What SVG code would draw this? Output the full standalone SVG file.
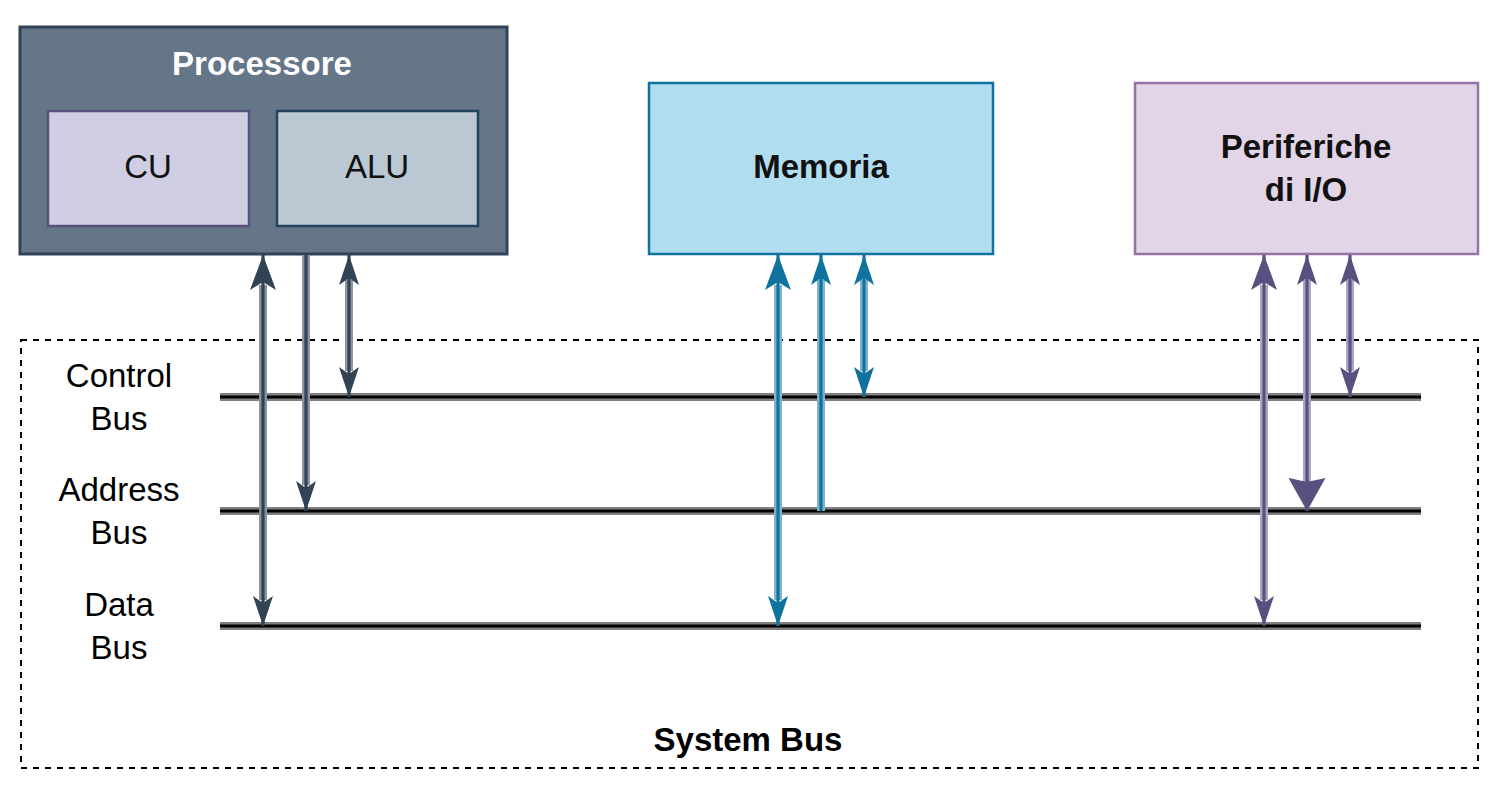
<svg xmlns="http://www.w3.org/2000/svg" width="1506" height="788" viewBox="0 0 1506 788">
<style>
text{font-family:"Liberation Sans",Arial,sans-serif;font-size:33px;text-anchor:middle}
.b{font-weight:bold}
.bus-o{stroke:#808080;stroke-width:8}
.bus-c{stroke:#000;stroke-width:3}
.o-d{stroke:#8a95a1;stroke-width:8}
.c-d{stroke:#314354;stroke-width:3.2}
.o-b{stroke:#7fb3cc;stroke-width:8}
.c-b{stroke:#10739e;stroke-width:3.2}
.o-p{stroke:#a9a5c2;stroke-width:8}
.c-p{stroke:#56517e;stroke-width:3.2}
</style>
<defs>
<marker id="hd" viewBox="0 0 30 20" markerWidth="30" markerHeight="20" refX="30" refY="10" markerUnits="userSpaceOnUse" orient="auto-start-reverse"><path d="M0,0 L30,10 L0,20 L7,10 Z" fill="#314354"/></marker>
<marker id="hdL" viewBox="0 0 35 26" markerWidth="35" markerHeight="26" refX="35" refY="13" markerUnits="userSpaceOnUse" orient="auto-start-reverse"><path d="M0,0 L35,13 L0,26 L8,13 Z" fill="#314354"/></marker>
<marker id="hb" viewBox="0 0 30 20" markerWidth="30" markerHeight="20" refX="30" refY="10" markerUnits="userSpaceOnUse" orient="auto-start-reverse"><path d="M0,0 L30,10 L0,20 L7,10 Z" fill="#10739e"/></marker>
<marker id="hbL" viewBox="0 0 35 26" markerWidth="35" markerHeight="26" refX="35" refY="13" markerUnits="userSpaceOnUse" orient="auto-start-reverse"><path d="M0,0 L35,13 L0,26 L8,13 Z" fill="#10739e"/></marker>
<marker id="hp" viewBox="0 0 30 20" markerWidth="30" markerHeight="20" refX="30" refY="10" markerUnits="userSpaceOnUse" orient="auto-start-reverse"><path d="M0,0 L30,10 L0,20 L7,10 Z" fill="#56517e"/></marker>
<marker id="hpL" viewBox="0 0 35 26" markerWidth="35" markerHeight="26" refX="35" refY="13" markerUnits="userSpaceOnUse" orient="auto-start-reverse"><path d="M0,0 L35,13 L0,26 L8,13 Z" fill="#56517e"/></marker>
<marker id="hpX" viewBox="0 0 33 37" markerWidth="33" markerHeight="37" refX="33" refY="18.5" markerUnits="userSpaceOnUse" orient="auto-start-reverse"><path d="M0,0 L33,18.5 L0,37 L4,18.5 Z" fill="#56517e"/></marker>
</defs>
<rect width="1506" height="788" fill="#fff"/>

<g id="system-bus">
<rect x="21" y="340" width="1457" height="428" fill="none" stroke="#000" stroke-width="2" stroke-dasharray="6 6"/>
<text class="b" x="748" y="751">System Bus</text>
</g>

<g id="control-bus">
<line class="bus-o" x1="220" y1="397" x2="1421" y2="397"/>
<line class="bus-c" x1="220" y1="397" x2="1421" y2="397"/>
<text x="119" y="387">Control</text><text x="119" y="430">Bus</text>
</g>
<g id="address-bus">
<line class="bus-o" x1="220" y1="511" x2="1421" y2="511"/>
<line class="bus-c" x1="220" y1="511" x2="1421" y2="511"/>
<text x="119" y="501">Address</text><text x="119" y="544">Bus</text>
</g>
<g id="data-bus">
<line class="bus-o" x1="220" y1="626" x2="1421" y2="626"/>
<line class="bus-c" x1="220" y1="626" x2="1421" y2="626"/>
<text x="119" y="616">Data</text><text x="119" y="659">Bus</text>
</g>

<g id="processore">
<rect x="20" y="27" width="487" height="227" fill="#647687" stroke="#314354" stroke-width="3"/>
<text class="b" x="262" y="75" fill="#fff">Processore</text>
</g>
<g id="cu">
<rect x="48" y="111" width="201" height="115" fill="#d0cee2" stroke="#56517e" stroke-width="2.5"/>
<text x="148" y="178" fill="#111">CU</text>
</g>
<g id="alu">
<rect x="277" y="111" width="201" height="115" fill="#bac8d3" stroke="#23445d" stroke-width="2.5"/>
<text x="377" y="178" fill="#111">ALU</text>
</g>
<g id="memoria">
<rect x="649" y="83" width="344" height="171" fill="#b1ddf0" stroke="#10739e" stroke-width="2.5"/>
<text class="b" x="821" y="178" fill="#111">Memoria</text>
</g>
<g id="periferiche">
<rect x="1135" y="83" width="343" height="171" fill="#e1d5e7" stroke="#9673a6" stroke-width="2.5"/>
<text class="b" x="1306" y="158" fill="#111">Periferiche</text>
<text class="b" x="1306" y="201" fill="#111">di I/O</text>
</g>

<g id="connectors" fill="none">
<line class="o-d" x1="263" y1="285" x2="263" y2="600"/>
<line class="c-d" x1="263" y1="255" x2="263" y2="626" marker-start="url(#hdL)" marker-end="url(#hd)"/>
<line class="o-d" x1="306" y1="255" x2="306" y2="485"/>
<line class="c-d" x1="306" y1="255" x2="306" y2="511" marker-end="url(#hd)"/>
<line class="o-d" x1="349" y1="280" x2="349" y2="371"/>
<line class="c-d" x1="349" y1="255" x2="349" y2="397" marker-start="url(#hd)" marker-end="url(#hd)"/>

<line class="o-b" x1="778" y1="285" x2="778" y2="600"/>
<line class="c-b" x1="778" y1="255" x2="778" y2="626" marker-start="url(#hbL)" marker-end="url(#hb)"/>
<line class="o-b" x1="821" y1="511" x2="821" y2="280"/>
<line class="c-b" x1="821" y1="511" x2="821" y2="255" marker-end="url(#hb)"/>
<line class="o-b" x1="864" y1="280" x2="864" y2="371"/>
<line class="c-b" x1="864" y1="255" x2="864" y2="397" marker-start="url(#hb)" marker-end="url(#hb)"/>

<line class="o-p" x1="1264" y1="285" x2="1264" y2="600"/>
<line class="c-p" x1="1264" y1="255" x2="1264" y2="626" marker-start="url(#hpL)" marker-end="url(#hp)"/>
<line class="o-p" x1="1307" y1="280" x2="1307" y2="482"/>
<line class="c-p" x1="1307" y1="255" x2="1307" y2="511" marker-start="url(#hp)" marker-end="url(#hpX)"/>
<line class="o-p" x1="1350" y1="280" x2="1350" y2="371"/>
<line class="c-p" x1="1350" y1="255" x2="1350" y2="397" marker-start="url(#hp)" marker-end="url(#hp)"/>
</g>
</svg>
